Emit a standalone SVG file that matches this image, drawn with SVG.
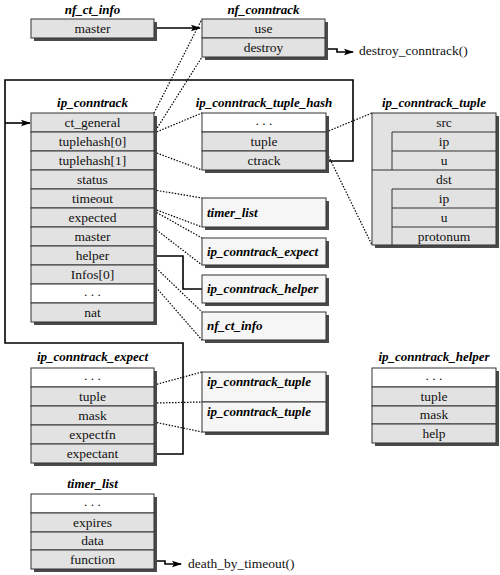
<svg xmlns="http://www.w3.org/2000/svg" width="500" height="575" viewBox="0 0 500 575" font-family="'Liberation Serif', 'DejaVu Serif', serif">
<defs>
<marker id="arr" markerWidth="10" markerHeight="8" refX="9" refY="4" orient="auto" markerUnits="userSpaceOnUse">
<path d="M0,0.8 L10,4 L0,7.2 L2,4 Z" fill="#000"/>
</marker>
</defs>
<style>
text{font-family:"Liberation Serif","DejaVu Serif",serif}
.t{font-size:13px;font-weight:bold;font-style:italic;fill:#000;text-anchor:middle}
.ts{font-size:13px;font-weight:bold;font-style:italic;fill:#000}
.r{font-size:13.5px;fill:#111;text-anchor:middle}
.lbl{font-size:13.5px;fill:#111}
.sh{fill:#4a4a4a}
.g{fill:#e2e2e2;stroke:#333;stroke-width:1}
.w{fill:#fff;stroke:#333;stroke-width:1}
.s{fill:#f6f6f6;stroke:#333;stroke-width:1}
.ln{stroke:#333;stroke-width:1;fill:none}
.dot{stroke:#000;stroke-width:1.2;stroke-dasharray:1.5,1.5;fill:none}
.sol{stroke:#000;stroke-width:1.6;fill:none}
</style>

<g id="connectors">
<path class="sol" d="M154,28 H200" marker-end="url(#arr)"/>
<path class="sol" d="M325,49 H337 V52 H353" marker-end="url(#arr)"/>
<path class="sol" d="M154,561 H165 V564 H181" marker-end="url(#arr)"/>
<path class="sol" d="M326,161 H353 V80 H5 V343 H183 V454 H154"/>
<path class="sol" d="M5,123 H30" marker-end="url(#arr)"/>
<path class="sol" d="M154,256 H183 V289 H202"/>
<path class="dot" d="M154,113 L202,19"/>
<path class="dot" d="M154,133 L202,57"/>
<path class="dot" d="M154,133 L202,113"/>
<path class="dot" d="M154,152 L202,170"/>
<path class="dot" d="M326,132 L372,113"/>
<path class="dot" d="M326,151 L372,245"/>
<path class="dot" d="M154,190 L202,198"/>
<path class="dot" d="M154,209 L202,227"/>
<path class="dot" d="M154,211 L202,238"/>
<path class="dot" d="M154,228 L202,265"/>
<path class="dot" d="M154,266 L202,312"/>
<path class="dot" d="M154,285 L202,340"/>
<path class="dot" d="M154,385 L202,372"/>
<path class="dot" d="M154,403 L202,402"/>
<path class="dot" d="M154,422 L202,432"/>
</g>

<g id="nf_ct_info">
<text class="t" x="92.5" y="14">nf_ct_info</text>
<rect class="sh" x="34" y="22" width="123" height="19"/>
<rect class="g" x="31" y="19" width="123" height="19"/>
<text class="r" x="92.5" y="33">master</text>
</g>

<g id="nf_conntrack">
<text class="t" x="263.5" y="14">nf_conntrack</text>
<rect class="sh" x="205" y="22" width="123" height="38"/>
<rect class="g" x="202" y="19" width="123" height="19"/>
<rect class="g" x="202" y="38" width="123" height="19"/>
<text class="r" x="263.5" y="33">use</text>
<text class="r" x="263.5" y="52">destroy</text>
</g>
<text class="lbl" x="359" y="55">destroy_conntrack()</text>

<g id="ip_conntrack">
<text class="t" x="92.5" y="107">ip_conntrack</text>
<rect class="sh" x="34" y="116" width="123" height="209"/>
<rect class="g" x="31" y="113" width="123" height="19"/>
<rect class="g" x="31" y="132" width="123" height="19"/>
<rect class="g" x="31" y="151" width="123" height="19"/>
<rect class="g" x="31" y="170" width="123" height="19"/>
<rect class="g" x="31" y="189" width="123" height="19"/>
<rect class="g" x="31" y="208" width="123" height="19"/>
<rect class="g" x="31" y="227" width="123" height="19"/>
<rect class="g" x="31" y="246" width="123" height="19"/>
<rect class="g" x="31" y="265" width="123" height="19"/>
<rect class="w" x="31" y="284" width="123" height="19"/>
<rect class="g" x="31" y="303" width="123" height="19"/>
<text class="r" x="92.5" y="127">ct_general</text>
<text class="r" x="92.5" y="146">tuplehash[0]</text>
<text class="r" x="92.5" y="165">tuplehash[1]</text>
<text class="r" x="92.5" y="184">status</text>
<text class="r" x="92.5" y="203">timeout</text>
<text class="r" x="92.5" y="222">expected</text>
<text class="r" x="92.5" y="241">master</text>
<text class="r" x="92.5" y="260">helper</text>
<text class="r" x="92.5" y="279">Infos[0]</text>
<text class="r" x="92.5" y="296">. . .</text>
<text class="r" x="92.5" y="317">nat</text>
</g>

<g id="ip_conntrack_tuple_hash">
<text class="t" x="264" y="107">ip_conntrack_tuple_hash</text>
<rect class="sh" x="205" y="116" width="124" height="57"/>
<rect class="w" x="202" y="113" width="124" height="19"/>
<rect class="g" x="202" y="132" width="124" height="19"/>
<rect class="g" x="202" y="151" width="124" height="19"/>
<text class="r" x="264" y="125">. . .</text>
<text class="r" x="264" y="146">tuple</text>
<text class="r" x="264" y="165">ctrack</text>
</g>

<g id="ip_conntrack_tuple">
<text class="t" x="434" y="107">ip_conntrack_tuple</text>
<rect class="sh" x="375" y="116" width="124" height="132"/>
<rect class="g" x="372" y="113" width="124" height="132"/>
<path class="ln" d="M392,132 H496 M392,151 H496 M372,170 H496 M392,189 H496 M392,208 H496 M392,227 H496 M392,132 V170 M392,189 V245"/>
<text class="r" x="444" y="127">src</text>
<text class="r" x="444" y="146">ip</text>
<text class="r" x="444" y="165">u</text>
<text class="r" x="444" y="184">dst</text>
<text class="r" x="444" y="203">ip</text>
<text class="r" x="444" y="222">u</text>
<text class="r" x="444" y="241">protonum</text>
</g>

<g id="ref_timer_list">
<rect class="sh" x="205" y="201" width="124" height="29"/>
<rect class="s" x="202" y="198" width="124" height="29"/>
<text class="ts" x="207" y="217">timer_list</text>
</g>
<g id="ref_ip_conntrack_expect">
<rect class="sh" x="205" y="241" width="124" height="27"/>
<rect class="s" x="202" y="238" width="124" height="27"/>
<text class="ts" x="207" y="256">ip_conntrack_expect</text>
</g>
<g id="ref_ip_conntrack_helper">
<rect class="sh" x="205" y="278" width="124" height="28"/>
<rect class="s" x="202" y="275" width="124" height="28"/>
<text class="ts" x="207" y="293">ip_conntrack_helper</text>
</g>
<g id="ref_nf_ct_info">
<rect class="sh" x="205" y="315" width="124" height="28"/>
<rect class="s" x="202" y="312" width="124" height="28"/>
<text class="ts" x="207" y="330">nf_ct_info</text>
</g>

<g id="ip_conntrack_expect">
<text class="t" x="92.5" y="361">ip_conntrack_expect</text>
<rect class="sh" x="34" y="371" width="123" height="95"/>
<rect class="w" x="31" y="368" width="123" height="19"/>
<rect class="g" x="31" y="387" width="123" height="19"/>
<rect class="g" x="31" y="406" width="123" height="19"/>
<rect class="g" x="31" y="425" width="123" height="19"/>
<rect class="g" x="31" y="444" width="123" height="19"/>
<text class="r" x="92.5" y="380">. . .</text>
<text class="r" x="92.5" y="401">tuple</text>
<text class="r" x="92.5" y="420">mask</text>
<text class="r" x="92.5" y="439">expectfn</text>
<text class="r" x="92.5" y="458">expectant</text>
</g>

<g id="ref_tuples">
<rect class="sh" x="205" y="375" width="124" height="60"/>
<rect class="s" x="202" y="372" width="124" height="30"/>
<rect class="s" x="202" y="402" width="124" height="30"/>
<text class="ts" x="207" y="386">ip_conntrack_tuple</text>
<text class="ts" x="207" y="416">ip_conntrack_tuple</text>
</g>

<g id="ip_conntrack_helper">
<text class="t" x="434" y="361">ip_conntrack_helper</text>
<rect class="sh" x="375" y="371" width="124" height="75"/>
<rect class="w" x="372" y="368" width="124" height="19"/>
<rect class="g" x="372" y="387" width="124" height="19"/>
<rect class="g" x="372" y="406" width="124" height="18"/>
<rect class="g" x="372" y="424" width="124" height="19"/>
<text class="r" x="434" y="380">. . .</text>
<text class="r" x="434" y="401">tuple</text>
<text class="r" x="434" y="419">mask</text>
<text class="r" x="434" y="438">help</text>
</g>

<g id="timer_list">
<text class="t" x="92.5" y="488">timer_list</text>
<rect class="sh" x="34" y="497" width="123" height="75"/>
<rect class="w" x="31" y="494" width="123" height="19"/>
<rect class="g" x="31" y="513" width="123" height="19"/>
<rect class="g" x="31" y="532" width="123" height="18"/>
<rect class="g" x="31" y="550" width="123" height="19"/>
<text class="r" x="92.5" y="506">. . .</text>
<text class="r" x="92.5" y="527">expires</text>
<text class="r" x="92.5" y="545">data</text>
<text class="r" x="92.5" y="564">function</text>
</g>
<text class="lbl" x="188" y="568">death_by_timeout()</text>
</svg>
